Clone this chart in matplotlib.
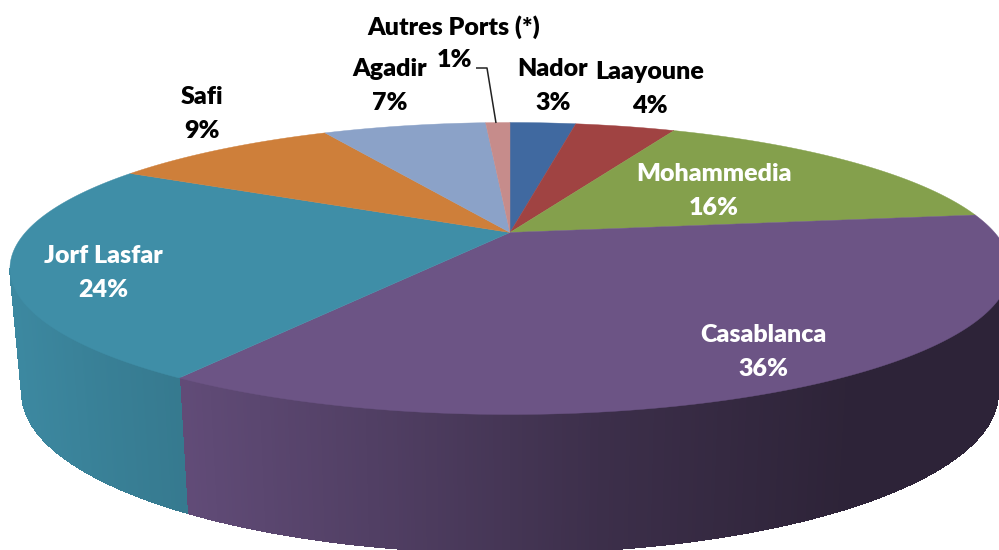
import numpy as np
import matplotlib
matplotlib.use('Agg')
import matplotlib.pyplot as plt
from matplotlib.collections import PolyCollection
from matplotlib.patches import Polygon

ports = ['Nador', 'Laayoune', 'Mohammedia', 'Casablanca', 'Jorf Lasfar', 'Safi', 'Agadir', 'Autres Ports (*)']
shares = [2.7, 4.1, 16.1, 36.2, 23.9, 9.3, 6.7, 1.0]

colors = ['#4069A0', '#A04342', '#84A04C', '#6C5485', '#3F8EA7', '#CE7F3A', '#8BA2C8', '#C68C8B']
text_colors = ['black', 'black', 'white', 'white', 'white', 'black', 'black', 'black']
label_pos = [(553, 69), (650, 72), (714, 174), (763, 335), (103, 256), (202, 97), (390, 69), (454, 27)]
line_gap = [34, 34, 34, 34, 34, 34, 34, 33]
fontsize = 18

# perspective of the disc, in pixels of the image
cx = 510
k = 0.2466
top = dict(a=484.6, b=137.1, y0=232.5)
bottom = dict(a=473.0, b=150.2, y0=353.6)

# darkening of the side wall along x
side_x = [[10, 100, 190], [180, 400, 600, 850, 999]]
side_f = [[0.96, 0.90, 0.85], [0.90, 0.73, 0.56, 0.42, 0.42]]
side_idx = {3: 1, 4: 0}


def project(theta, disc):
    # theta is clockwise from the far side of the disc
    u = np.sin(theta)
    v = np.cos(theta)
    w = 1 + k * v
    return cx + disc['a'] * u / w, disc['y0'] - disc['b'] * v / w


fig = plt.figure(figsize=(9.99, 5.5), dpi=100)
ax = fig.add_axes([0, 0, 1, 1])
ax.set_xlim(0, 999)
ax.set_ylim(550, 0)
ax.axis('off')

edges = np.radians(np.cumsum([0] + shares) / sum(shares) * 360)
tangent = np.arccos(-k)
front_a, front_b = tangent, 2 * np.pi - tangent

# side wall
for i in side_idx:
    a0 = max(edges[i], front_a)
    a1 = min(edges[i + 1], front_b)
    th = np.linspace(a0, a1, 300)
    x1, y1 = project(th, top)
    x2, y2 = project(th, bottom)
    base = np.array(matplotlib.colors.to_rgb(colors[i]))
    quads = []
    cols = []
    for j in range(len(th) - 1):
        quads.append([(x1[j], y1[j]), (x1[j + 1], y1[j + 1]), (x2[j + 1], y2[j + 1]), (x2[j], y2[j])])
        f = np.interp(x1[j], side_x[side_idx[i]], side_f[side_idx[i]])
        cols.append(base * f)
    ax.add_collection(PolyCollection(quads, facecolors=cols, edgecolors=cols, linewidths=0.5, antialiaseds=False))

# top of the pie
for i in range(len(ports)):
    th = np.linspace(edges[i], edges[i + 1], 200)
    x, y = project(th, top)
    pts = [(cx, top['y0'])] + list(zip(x, y))
    ax.add_patch(Polygon(pts, closed=True, facecolor=colors[i], edgecolor=colors[i], linewidth=0.3))

# leader line of the smallest slice
ax.plot([476, 487, 496], [68, 68, 123], color='#222222', lw=1.1, solid_capstyle='butt')

for i in range(len(ports)):
    x, y = label_pos[i]
    ax.text(x, y, ports[i], ha='center', va='center', family='Lato', weight='heavy',
            fontsize=fontsize, color=text_colors[i])
    ax.text(x, y + line_gap[i], f'{shares[i]:.0f}%', ha='center', va='center', family='Lato',
            weight='heavy', fontsize=fontsize, color=text_colors[i])

fig.savefig('out.png', dpi=100)
